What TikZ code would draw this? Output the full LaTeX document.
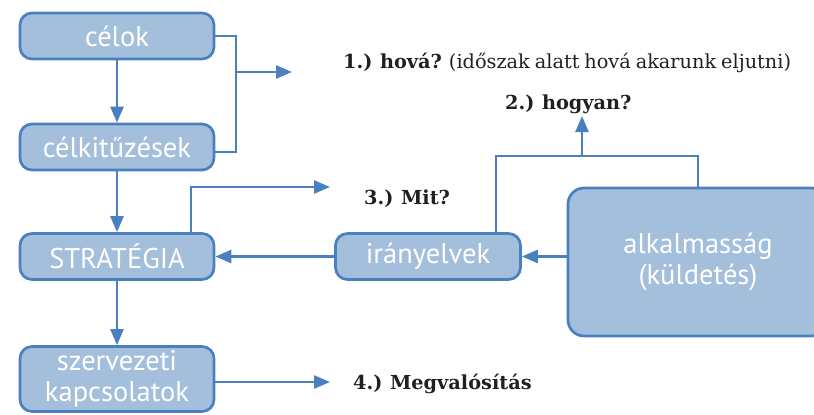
\documentclass[tikz,border=0pt]{standalone}
\usepackage{fontspec}
\setmainfont[WordSpace=0.8]{DejaVu Serif}
\newfontfamily\boxfont{PT Sans}
\usetikzlibrary{arrows.meta}
\definecolor{boxfill}{HTML}{A4BFDB}
\definecolor{boxline}{HTML}{4A80C0}
\definecolor{labeltext}{HTML}{231F20}
\begin{document}
\begin{tikzpicture}[x=1pt,y=-1pt,
  stepbox/.style={draw=boxline, fill=boxfill, line width=2.7pt, rounded corners=12pt,
    text=white, font=\boxfont\fontsize{28.5}{31}\selectfont, inner sep=0pt, align=center},
  link/.style={draw=boxline, line width=2.6pt, -{Triangle[length=16pt,width=13pt]}},
  plain/.style={draw=boxline, line width=2.6pt},
  question/.style={text=labeltext, font=\fontsize{19.3}{22}\selectfont, inner sep=0pt, anchor=west}]
\clip (0,0) rectangle (814,415);

% boxes
\node[stepbox, minimum width=194pt, minimum height=46pt] (celok) at (117,36) {célok};
\node[stepbox, minimum width=194pt, minimum height=46pt] (celkit) at (117,147) {célkitűzések};
\node[stepbox, minimum width=194pt, minimum height=46pt] (strat) at (117,256.5) {STRATÉGIA};
\node[stepbox, minimum width=194pt, minimum height=65pt] (szerv) at (117,379) {szervezeti\\kapcsolatok};
\node[stepbox, minimum width=185pt, minimum height=46pt] (irany) at (428,256.5) {irányelvek};
\node[stepbox, minimum width=260pt, minimum height=148pt, rounded corners=16pt] (alk) at (698,262) {alkalmasság\\(küldetés)};

% helper points
\coordinate (fork1) at (236,72);
\coordinate (q1tip) at (292,72);
\coordinate (fork2) at (582,156);
\coordinate (q2tip) at (582,116);
\coordinate (q3tip) at (330,187);
\coordinate (q4tip) at (330,382);

% connectors
\draw[link] (celok.south) -- (celkit.north);
\draw[link] (celkit.south) -- (strat.north);
\draw[link] (strat.south) -- (szerv.north);
\draw[plain] (celok.east) -| (fork1) |- ([yshift=-5pt]celkit.east);
\draw[link] (fork1) -- (q1tip);
\draw[link] ([xshift=74pt]strat.north) |- (q3tip);
\draw[link] (irany.west) -- (strat.east);
\draw[link] (alk.west |- irany.east) -- (irany.east);
\draw[plain] ([xshift=68pt]irany.north) |- (fork2) -| (alk.north);
\draw[link] (fork2) -- (q2tip);
\draw[link] ([yshift=-3pt]szerv.east) -- (q4tip);

% questions
\node[question] (q1) at (343,63) {\textbf{1.) hová?} (időszak alatt hová akarunk eljutni)};
\node[question] (q2) at (505,104) {\textbf{2.) hogyan?}};
\node[question] (q3) at (364,199) {\textbf{3.) Mit?}};
\node[question] (q4) at (353,384) {\textbf{4.) Megvalósítás}};
\end{tikzpicture}
\end{document}
